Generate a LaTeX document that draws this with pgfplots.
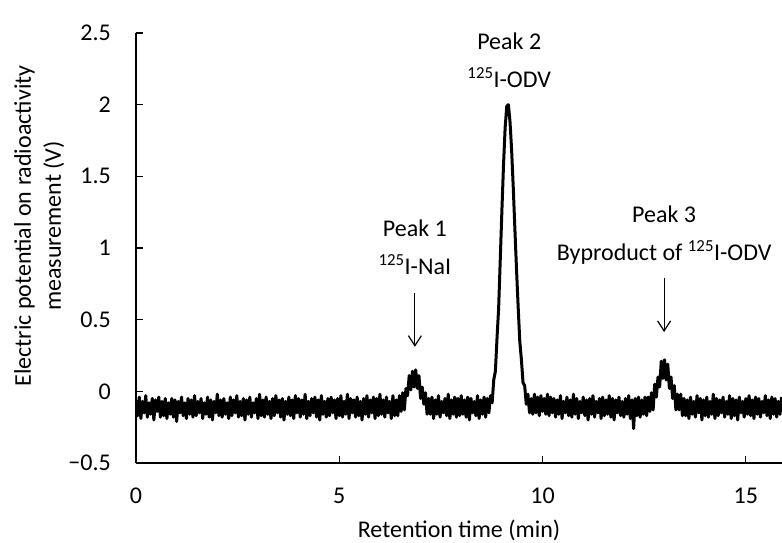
\documentclass[border=0pt]{standalone}
\usepackage{fontspec}
\setmainfont{Carlito}
\usepackage{pgfplots}
\pgfplotsset{compat=1.18}
\usetikzlibrary{arrows.meta}
\begin{document}
\fontsize{24bp}{30bp}\selectfont
\begin{tikzpicture}
\begin{axis}[
  at={(0,0)}, anchor=south west,
  scale only axis, width=646bp, height=430bp,
  xmin=0, xmax=15.89, ymin=-0.5, ymax=2.5,
  axis x line=bottom, axis y line=left,
  axis line style={-, line width=1.3bp, black},
  xtick={0,5,10,15}, xticklabels={0,5,10,15},
  ytick={-0.5,0,0.5,1,1.5,2,2.5},
  yticklabels={−0.5,0,0.5,1,1.5,2,2.5},
  tick align=inside, major tick length=7bp,
  tick style={line width=1.3bp, black},
  xticklabel shift=17bp, yticklabel shift=17bp,
  xlabel={Retention time (min)},
  ylabel={Electric potential on radioactivity\\measurement (V)},
  ylabel style={align=center, at={(ticklabel cs:0.551)}},
  ylabel shift=-12bp,
  clip mode=individual,
]
\addplot[black, line width=3bp, line join=round] table[header=false, row sep=\\, x expr=\coordindex*0.04, y index=0] {
-0.06\\ -0.17\\ -0.04\\ -0.19\\ -0.07\\ -0.15\\ -0.03\\ -0.18\\ -0.08\\ -0.16\\ -0.05\\ -0.20\\ -0.06\\ -0.14\\ -0.04\\ -0.18\\ -0.07\\ -0.17\\ -0.05\\ -0.19\\
-0.08\\ -0.16\\ -0.05\\ -0.18\\ -0.06\\ -0.21\\ -0.07\\ -0.15\\ -0.04\\ -0.17\\ -0.08\\ -0.19\\ -0.05\\ -0.16\\ -0.06\\ -0.18\\ -0.03\\ -0.17\\ -0.07\\ -0.15\\
-0.05\\ -0.19\\ -0.08\\ -0.16\\ -0.04\\ -0.18\\ -0.06\\ -0.20\\ -0.07\\ -0.15\\ -0.02\\ -0.17\\ -0.06\\ -0.18\\ -0.05\\ -0.16\\ -0.08\\ -0.19\\ -0.04\\ -0.17\\
-0.06\\ -0.15\\ -0.03\\ -0.18\\ -0.07\\ -0.17\\ -0.05\\ -0.20\\ -0.06\\ -0.16\\ -0.04\\ -0.18\\ -0.08\\ -0.15\\ -0.05\\ -0.19\\ -0.02\\ -0.17\\ -0.06\\ -0.18\\
-0.04\\ -0.16\\ -0.07\\ -0.19\\ -0.05\\ -0.17\\ -0.03\\ -0.15\\ -0.06\\ -0.18\\ -0.05\\ -0.20\\ -0.07\\ -0.16\\ -0.04\\ -0.17\\ -0.06\\ -0.19\\ -0.03\\ -0.15\\
-0.05\\ -0.18\\ -0.06\\ -0.16\\ -0.02\\ -0.19\\ -0.07\\ -0.17\\ -0.05\\ -0.15\\ -0.04\\ -0.18\\ -0.06\\ -0.20\\ -0.03\\ -0.16\\ -0.07\\ -0.18\\ -0.05\\ -0.17\\
-0.04\\ -0.15\\ -0.06\\ -0.19\\ -0.05\\ -0.17\\ -0.03\\ -0.18\\ -0.07\\ -0.16\\ -0.02\\ -0.19\\ -0.05\\ -0.15\\ -0.06\\ -0.18\\ -0.04\\ -0.17\\ -0.07\\ -0.20\\
-0.05\\ -0.16\\ -0.03\\ -0.18\\ -0.06\\ -0.15\\ -0.04\\ -0.19\\ -0.05\\ -0.17\\ -0.02\\ -0.16\\ -0.06\\ -0.18\\ -0.04\\ -0.15\\ -0.07\\ -0.19\\ -0.03\\ -0.17\\
-0.06\\ -0.17\\ -0.03\\ -0.14\\ -0.01\\ -0.13\\ 0.02\\ -0.03\\ 0.11\\ 0.01\\ 0.14\\ 0.03\\ 0.15\\ 0.02\\ 0.11\\ -0.05\\ 0.03\\ -0.09\\ -0.01\\ -0.16\\
-0.05\\ -0.16\\ -0.04\\ -0.19\\ -0.06\\ -0.16\\ -0.03\\ -0.18\\ -0.07\\ -0.15\\ -0.05\\ -0.17\\ -0.02\\ -0.19\\ -0.06\\ -0.16\\ -0.04\\ -0.18\\ -0.05\\ -0.17\\
-0.03\\ -0.16\\ -0.06\\ -0.18\\ -0.04\\ -0.20\\ -0.05\\ -0.15\\ -0.07\\ -0.17\\ -0.03\\ -0.19\\ -0.06\\ -0.16\\ -0.04\\ -0.18\\
-0.05\\ -0.15\\ -0.03\\ -0.08\\ 0.08\\ 0.14\\ 0.37\\ 0.58\\ 0.92\\ 1.26\\ 1.58\\ 1.84\\ 1.99\\ 2.00\\ 1.88\\ 1.68\\ 1.42\\ 1.13\\ 0.85\\ 0.59\\ 0.35\\ 0.22\\ 0.06\\ 0.04\\ -0.09\\ -0.02\\ -0.15\\ -0.05\\
-0.16\\ -0.02\\ -0.15\\ -0.04\\ -0.17\\ -0.03\\ -0.14\\ -0.05\\ -0.16\\ -0.02\\ -0.17\\ -0.04\\
-0.15\\ -0.05\\ -0.18\\ -0.06\\ -0.16\\ -0.03\\ -0.19\\ -0.07\\ -0.15\\ -0.04\\ -0.17\\ -0.06\\ -0.18\\ -0.02\\ -0.16\\ -0.05\\ -0.19\\ -0.07\\ -0.15\\ -0.04\\
-0.17\\ -0.06\\ -0.20\\ -0.05\\ -0.16\\ -0.03\\ -0.18\\ -0.07\\ -0.15\\ -0.05\\ -0.19\\ -0.04\\ -0.17\\ -0.06\\ -0.16\\ -0.03\\ -0.18\\ -0.05\\ -0.20\\ -0.06\\
-0.15\\ -0.04\\ -0.17\\ -0.07\\ -0.18\\ -0.05\\ -0.16\\ -0.03\\ -0.19\\ -0.06\\ -0.26\\ -0.05\\ -0.17\\ -0.04\\ -0.18\\ -0.06\\ -0.16\\
-0.04\\ -0.17\\ -0.04\\ -0.14\\ -0.01\\ -0.13\\ 0.05\\ -0.04\\ 0.10\\ 0.03\\ 0.21\\ 0.09\\ 0.22\\ 0.08\\ 0.19\\ 0.02\\ 0.10\\ -0.05\\ 0.04\\ -0.13\\ -0.02\\ -0.13\\ -0.02\\ -0.17\\ -0.05\\
-0.17\\ -0.06\\ -0.19\\ -0.04\\ -0.16\\ -0.07\\ -0.18\\ -0.03\\ -0.15\\ -0.05\\ -0.20\\ -0.06\\ -0.17\\ -0.04\\ -0.18\\ -0.07\\ -0.16\\ -0.02\\ -0.19\\ -0.05\\
-0.17\\ -0.06\\ -0.15\\ -0.04\\ -0.18\\ -0.07\\ -0.16\\ -0.03\\ -0.19\\ -0.05\\ -0.17\\ -0.06\\ -0.20\\ -0.04\\ -0.15\\ -0.07\\ -0.18\\ -0.05\\ -0.16\\ -0.03\\
-0.17\\ -0.06\\ -0.19\\ -0.04\\ -0.16\\ -0.05\\ -0.18\\ -0.07\\ -0.15\\ -0.03\\ -0.17\\ -0.06\\ -0.19\\ -0.04\\ -0.16\\ -0.05\\ -0.18\\ -0.07\\ -0.16\\ -0.04\\
};
\node[anchor=base] at (axis cs:9.18,2.382) {Peak 2};
\node[anchor=base] at (axis cs:9.18,2.117) {\textsuperscript{125}I-ODV};
\node[anchor=base] at (axis cs:6.86,1.077) {Peak 1};
\node[anchor=base] at (axis cs:6.86,0.812) {\textsuperscript{125}I-NaI};
\draw[-{Straight Barb[length=10bp,width=13bp]}, line width=1.2bp] (axis cs:6.86,0.686) -- (axis cs:6.86,0.311);
\node[anchor=base] at (axis cs:12.99,1.181) {Peak 3};
\node[anchor=base] at (axis cs:12.99,0.916) {Byproduct of \textsuperscript{125}I-ODV};
\draw[-{Straight Barb[length=10bp,width=13bp]}, line width=1.2bp] (axis cs:12.99,0.791) -- (axis cs:12.99,0.414);
\end{axis}
\pgfresetboundingbox
\path[use as bounding box] (-136bp,-80bp) rectangle (646bp,463bp);
\end{tikzpicture}
\end{document}
